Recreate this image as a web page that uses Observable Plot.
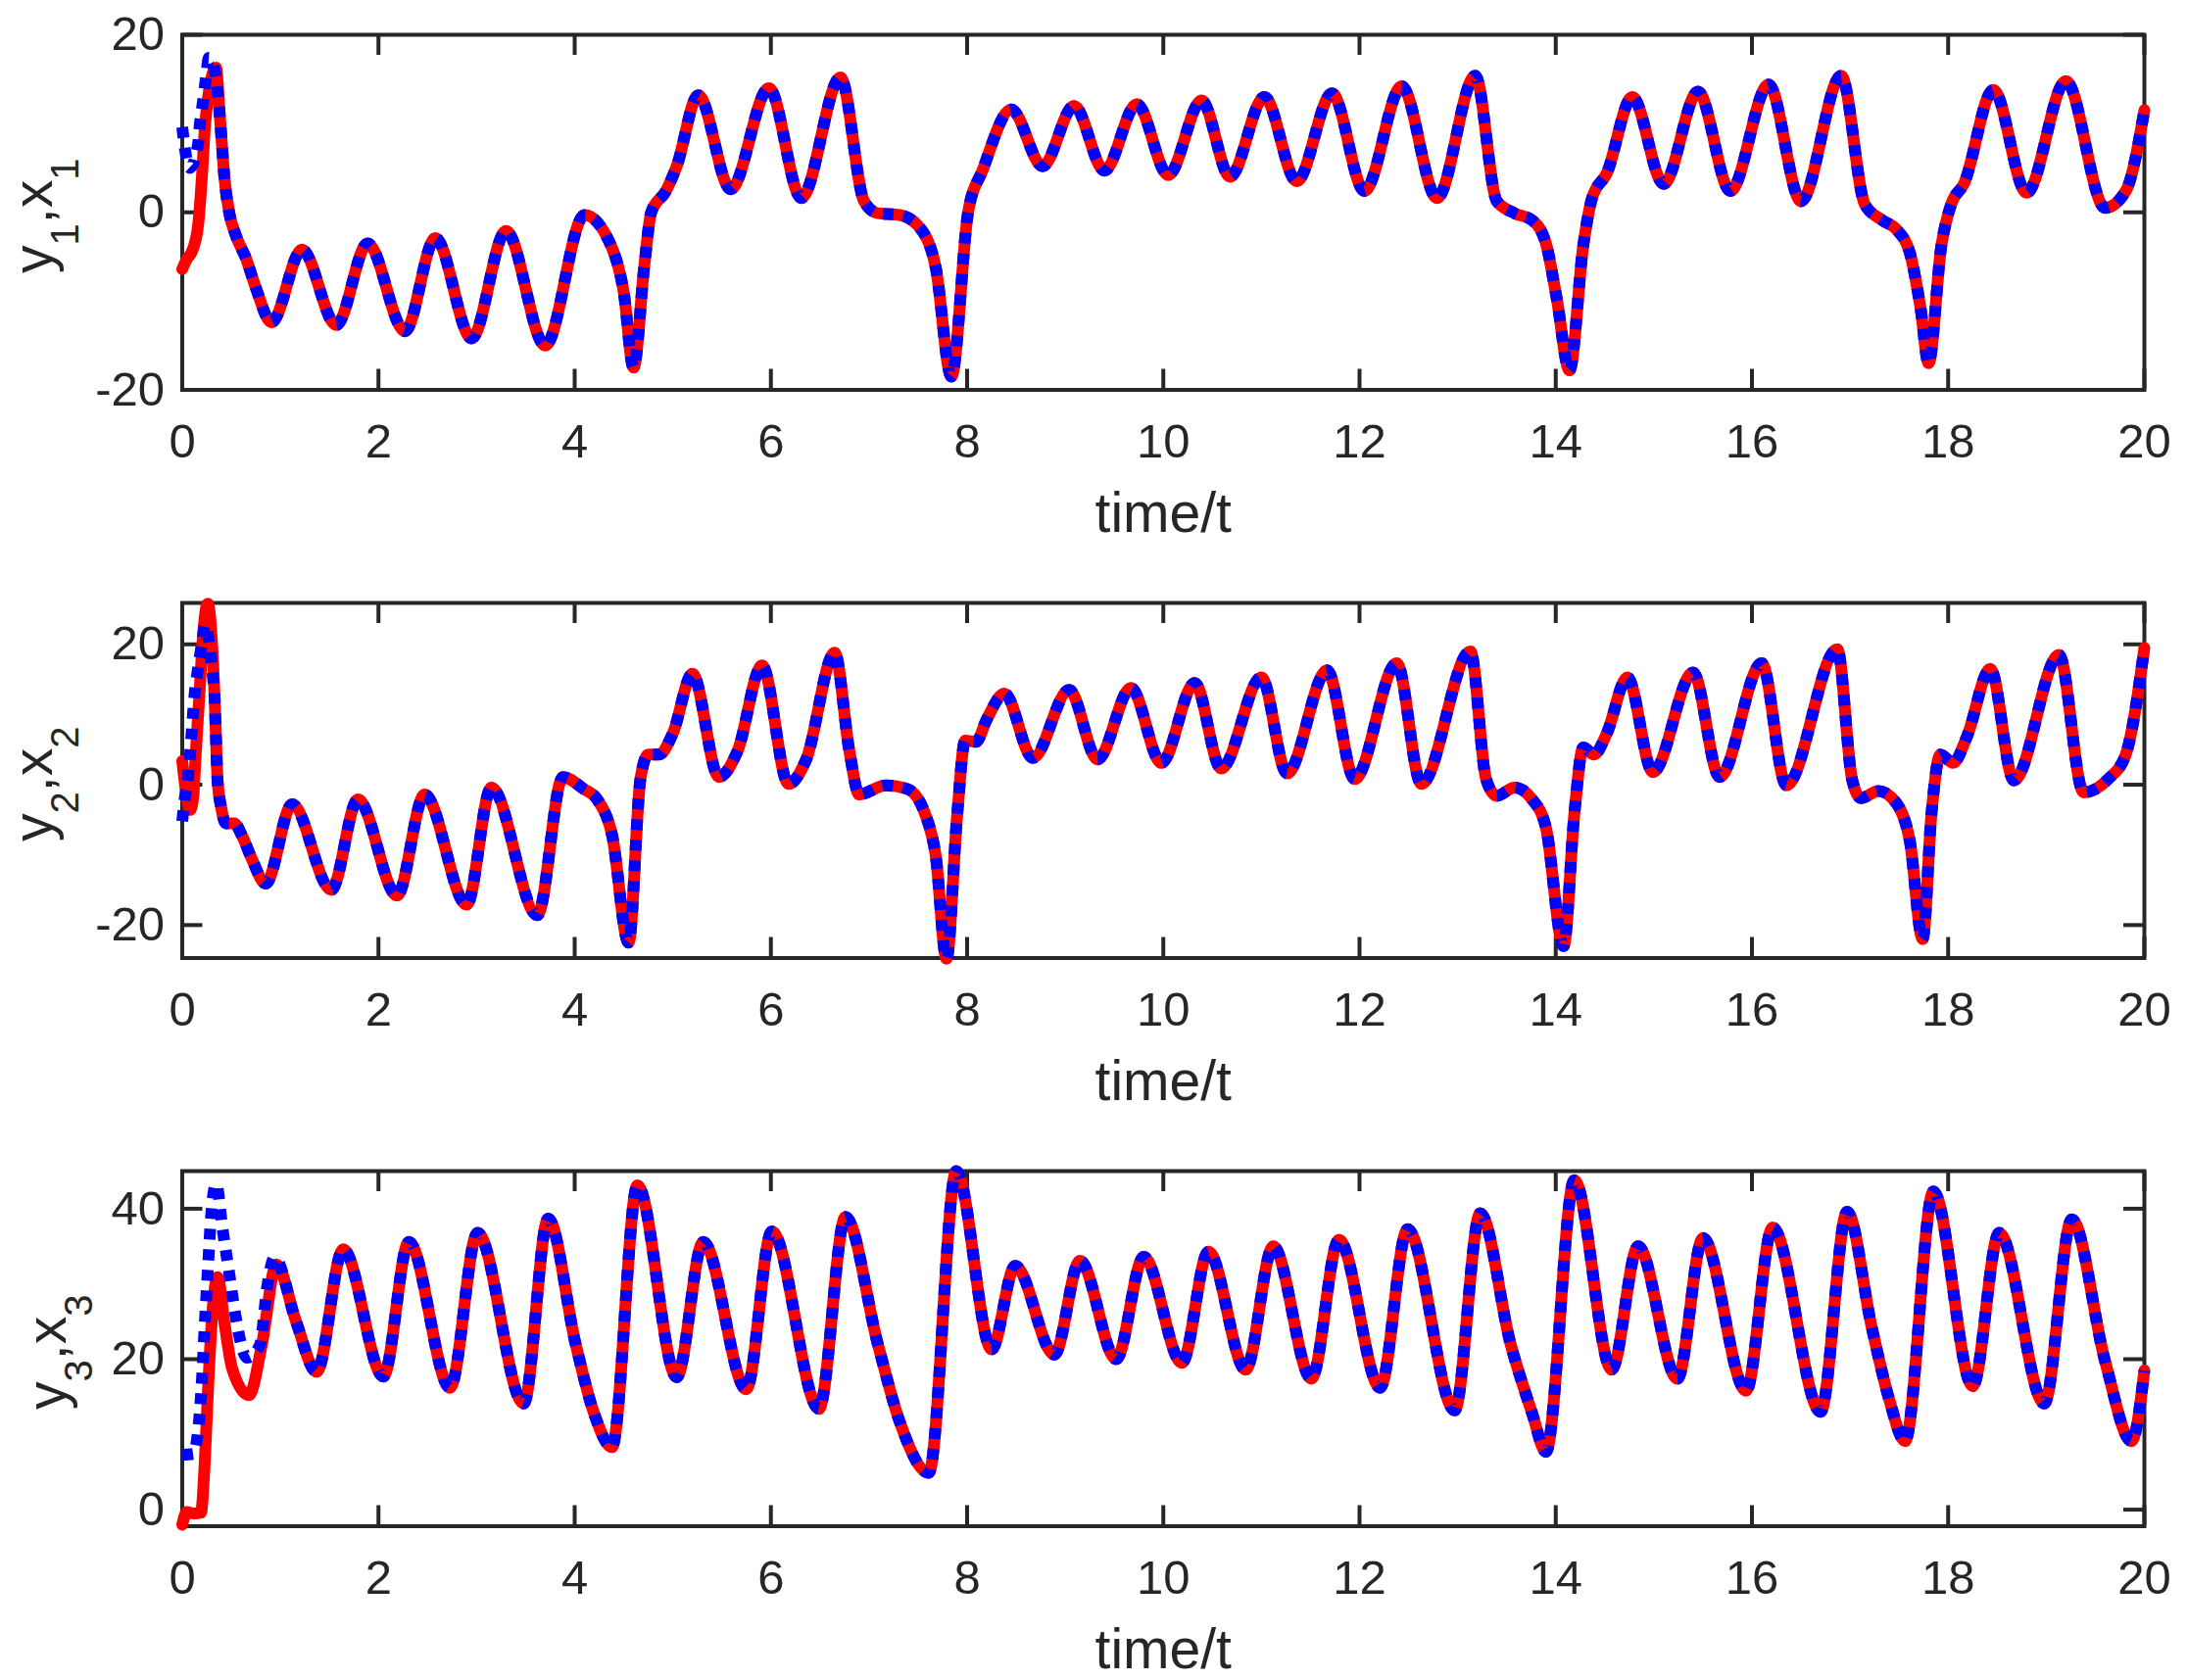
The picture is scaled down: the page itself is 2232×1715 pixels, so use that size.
<!DOCTYPE html>
<html><head><meta charset="utf-8">
<script src="https://cdn.jsdelivr.net/npm/d3@7"></script>
<script src="https://cdn.jsdelivr.net/npm/@observablehq/plot@0.6"></script>
<style>
html,body{margin:0;padding:0;background:#fff;}
#chart{width:2232px;height:1715px;overflow:hidden;background:#fff;}
#chart svg{display:block;}
</style></head><body><div id="chart"></div>
<script>
// ---------- tick labels ----------
const xTicks = [0, 2, 4, 6, 8, 10, 12, 14, 16, 18, 20];
const y1Ticks = [-20, 0, 20];
const y2Ticks = [-20, 0, 20];
const y3Ticks = [0, 20, 40];
const xLabel = "time/t";

// ---------- panel 1 : y1 (red, solid) / x1 (blue, dotted) ----------
const p1RedHeadT  = [0, 0.05, 0.095, 0.16, 0.2, 0.23, 0.27, 0.345];
const p1RedHeadV  = [-6.4, -5.2, -4.5, -1.6, 3.9, 9.4, 13.5, 16.3];
const p1BlueHeadT = [0, 0.028, 0.078, 0.16, 0.18, 0.21, 0.245, 0.27, 0.33];
const p1BlueHeadV = [9.6, 7.1, 5.0, 7.6, 10, 12.4, 15.5, 17.4, 16.0];
const p1T = [0.38,0.40,0.43,0.48,0.55,0.65,0.75,0.91,1.22,1.57,1.89,2.27,2.58,2.95,3.30,3.70,4.10,4.38,4.50,4.60,4.71,4.78,4.93,5.04,5.26,5.59,5.98,6.31,6.71,6.95,7.09,7.31,7.50,7.68,7.84,8.01,8.16,8.45,8.77,9.09,9.40,9.73,10.05,10.39,10.68,11.03,11.36,11.72,12.05,12.43,12.79,13.18,13.40,13.58,13.76,13.90,14.01,14.14,14.28,14.37,14.52,14.78,15.10,15.45,15.78,16.17,16.50,16.91,17.15,17.33,17.47,17.61,17.72,17.80,17.93,18.03,18.16,18.46,18.80,19.20,19.60,19.81,20.0];
const p1V = [11.3,8.3,3.9,-0.1,-2.7,-5.2,-8.5,-12.4,-4.2,-12.7,-3.5,-13.4,-2.9,-14.2,-2.1,-15.0,-0.3,-4.0,-9.0,-17.5,-6.0,0,2.4,5.2,13.2,2.6,14.0,1.6,15.2,1.25,-0.1,-0.3,-1.5,-6.2,-18.5,0,4.8,11.6,5.2,12.0,4.7,12.2,4.2,12.6,4.0,13.0,3.5,13.4,2.4,14.2,1.6,15.4,1.25,-0.1,-0.9,-3.5,-9.7,-17.8,-3.8,1.6,4.4,13.0,3.2,13.6,2.4,14.4,1.25,15.4,0.9,-0.9,-1.9,-4.6,-10.9,-17.0,-3.8,0.9,3.2,13.8,2.2,14.8,0.5,2.4,11.5];

// ---------- panel 2 : y2 / x2 ----------
const p2RedHeadT  = [0, 0.04, 0.08, 0.11, 0.14, 0.18, 0.21, 0.26, 0.30];
const p2RedHeadV  = [3.4, -1.2, -3.6, -2.0, 5.0, 14.0, 21.0, 25.8, 21.0];
const p2BlueHeadT = [0, 0.028, 0.06, 0.078, 0.095, 0.128, 0.16, 0.195, 0.235, 0.29, 0.31];
const p2BlueHeadV = [-5.2, -1.7, 1.1, 4.0, 7.3, 13.2, 16.5, 19.7, 22.8, 18.2, 15.6];
const p2T = [0.33,0.345,0.36,0.395,0.445,0.53,0.61,0.71,0.85,1.12,1.52,1.79,2.19,2.47,2.90,3.15,3.62,3.88,4.09,4.23,4.38,4.55,4.67,4.75,4.86,5.00,5.20,5.47,5.66,5.91,6.18,6.36,6.65,6.80,6.90,7.17,7.39,7.57,7.68,7.79,7.90,7.98,8.09,8.20,8.38,8.67,9.04,9.33,9.67,9.98,10.32,10.59,11.00,11.26,11.67,11.95,12.38,12.63,13.13,13.29,13.40,13.58,13.76,13.90,14.08,14.19,14.28,14.39,14.52,14.73,14.99,15.40,15.67,16.10,16.35,16.87,17.02,17.11,17.29,17.47,17.61,17.74,17.83,17.92,18.05,18.19,18.43,18.67,19.13,19.38,19.63,19.81,20.0];
const p2V = [12.3,6.2,0.6,-3.1,-5.5,-5.5,-7.3,-10.6,-14.1,-2.8,-15.0,-2.1,-15.8,-1.4,-17.1,-0.4,-18.6,1.1,-0.6,-2.1,-7.1,-22.5,0.8,4.3,4.3,7.3,15.8,1.1,4.8,17.0,0.1,3.6,18.8,4.8,-1.4,-0.1,-0.6,-4.1,-10.1,-24.8,-4.1,6.3,6.1,9.3,13.0,3.8,13.5,3.6,13.8,3.1,14.5,2.3,15.3,1.6,16.3,0.8,17.3,0.1,19.0,0.8,-1.6,-0.4,-2.1,-6.1,-23.0,-4.1,5.3,4.3,7.3,15.3,1.8,16.0,1.1,17.3,-0.1,19.3,0.8,-1.9,-0.9,-2.6,-8.1,-22.0,-4.1,4.3,3.1,6.8,16.5,0.6,18.5,-1.1,0.8,4.3,19.5];

// ---------- panel 3 : y3 / x3 ----------
const p3RedHeadT  = [0, 0.045, 0.12, 0.19, 0.23, 0.26, 0.295, 0.36, 0.43, 0.51, 0.68, 0.81, 0.96];
const p3RedHeadV  = [-2.0, -0.3, -0.5, -0.4, 6.5, 15.2, 23.9, 30.9, 24.8, 18.7, 15.2, 21.8, 32.6];
const p3BlueHeadT = [0, 0.11, 0.16, 0.195, 0.23, 0.26, 0.295, 0.345, 0.41, 0.48, 0.545, 0.66, 0.79, 0.87, 0.94];
const p3BlueHeadV = [7.3, 7.4, 10.4, 16, 24.8, 31.7, 39.2, 43.3, 37.4, 31.3, 25.6, 20.2, 21.8, 30.0, 33.5];
const p3T = [1.16,1.37,1.64,2.05,2.31,2.73,3.01,3.48,3.73,4.01,4.20,4.38,4.64,5.04,5.31,5.75,6.01,6.49,6.76,7.09,7.31,7.61,7.89,8.25,8.49,8.89,9.15,9.52,9.80,10.19,10.46,10.84,11.12,11.51,11.79,12.21,12.49,12.97,13.23,13.54,13.76,13.90,14.19,14.57,14.84,15.24,15.50,15.94,16.21,16.70,16.97,17.22,17.40,17.56,17.85,18.25,18.52,18.98,19.26,19.60,19.87,20.0];
const p3V = [25.0,18.3,34.6,17.7,35.6,16.2,36.8,14.1,38.7,22.0,12.7,8.3,43.1,17.6,35.6,16.0,37.0,13.4,38.9,22.0,11.8,4.9,45.0,21.3,32.4,20.6,33.1,20.0,33.6,19.5,34.3,18.6,35.0,17.4,35.9,16.2,37.3,13.2,39.4,22.0,12.8,7.7,43.8,18.6,35.0,17.4,36.1,15.8,37.5,13.0,39.6,24.3,14.6,9.1,42.3,16.4,36.8,14.1,38.6,19.7,9.1,18.5];

// ---------- helpers ----------
const toRows = (T, V) => T.map((t, i) => ({t, v: V[i]}));
const FONT = "'Liberation Sans', Arial, Helvetica, sans-serif";
const INK = "#262626";
const W = 2232, ML = 185.5, MR = 44, MT = 35, PH = 362.5;
const TICK_FS = 49, LABEL_FS = 57, SUB_FS = 40, SUB_DY = 27;

function panel({domain, yTicks, red, blue, sub, height, labelX}) {
  const mb = height - MT - PH;
  const lenY = (domain[1] - domain[0]) * 21 / PH;
  const lenX = 20 * 21 / (W - ML - MR);
  const ink = {stroke: INK, strokeWidth: 4};
  const plot = Plot.plot({
    width: W, height, marginTop: MT, marginBottom: mb, marginLeft: ML, marginRight: MR,
    style: {fontFamily: FONT, fontSize: TICK_FS + "px", color: INK, background: "#fff", overflow: "visible"},
    x: {domain: [0, 20]},
    y: {domain},
    marks: [
      Plot.frame(ink),
      Plot.ruleX(xTicks, {x: d => d, y1: domain[0], y2: domain[0] + lenY, ...ink}),
      Plot.ruleX(xTicks, {x: d => d, y1: domain[1], y2: domain[1] - lenY, ...ink}),
      Plot.ruleY(yTicks, {y: d => d, x1: 0, x2: lenX, ...ink}),
      Plot.ruleY(yTicks, {y: d => d, x1: 20, x2: 20 - lenX, ...ink}),
      Plot.axisX({ticks: xTicks, tickSize: 0, tickPadding: 34, fontSize: TICK_FS, label: null, tickFormat: d => String(d), fill: INK}),
      Plot.axisY({ticks: yTicks, tickSize: 0, tickPadding: 18, fontSize: TICK_FS, label: null, tickFormat: d => String(d), fill: INK}),
      Plot.text([xLabel], {frameAnchor: "bottom", dy: 145, fontSize: LABEL_FS, lineAnchor: "bottom", fill: INK}),
      Plot.line(red, {x: "t", y: "v", stroke: "#ff0000", strokeWidth: 12, curve: "monotone-x", strokeLinejoin: "round"}),
      Plot.line(blue, {x: "t", y: "v", stroke: "#0000ff", strokeWidth: 12, strokeDasharray: "11,10", strokeLinecap: "butt", curve: "monotone-x"})
    ]
  });
  const svg = d3.select(plot);
  const lab = svg.append("text")
    .attr("transform", `translate(${labelX},${MT + PH / 2 + 4}) rotate(-90)`)
    .attr("text-anchor", "middle")
    .attr("font-family", FONT)
    .attr("font-size", LABEL_FS)
    .attr("fill", INK);
  lab.append("tspan").text("y");
  lab.append("tspan").attr("font-size", SUB_FS).attr("dy", SUB_DY).text(sub);
  lab.append("tspan").attr("dy", -SUB_DY).text(",");
  lab.append("tspan").text("x");
  lab.append("tspan").attr("font-size", SUB_FS).attr("dy", SUB_DY).text(sub);
  return plot;
}

const chart = document.getElementById("chart");
const common1 = toRows(p1T, p1V), common2 = toRows(p2T, p2V), common3 = toRows(p3T, p3V);
chart.append(panel({domain: [-20, 20], yTicks: y1Ticks, sub: "1", height: 580, labelX: 53,
  red: toRows(p1RedHeadT, p1RedHeadV).concat(common1), blue: toRows(p1BlueHeadT, p1BlueHeadV).concat(common1)}));
chart.append(panel({domain: [-24.7, 25.9], yTicks: y2Ticks, sub: "2", height: 580, labelX: 53,
  red: toRows(p2RedHeadT, p2RedHeadV).concat(common2), blue: toRows(p2BlueHeadT, p2BlueHeadV).concat(common2)}));
chart.append(panel({domain: [-2.2, 45], yTicks: y3Ticks, sub: "3", height: 555, labelX: 67,
  red: toRows(p3RedHeadT, p3RedHeadV).concat(common3), blue: toRows(p3BlueHeadT, p3BlueHeadV).concat(common3)}));
</script>
</body></html>
